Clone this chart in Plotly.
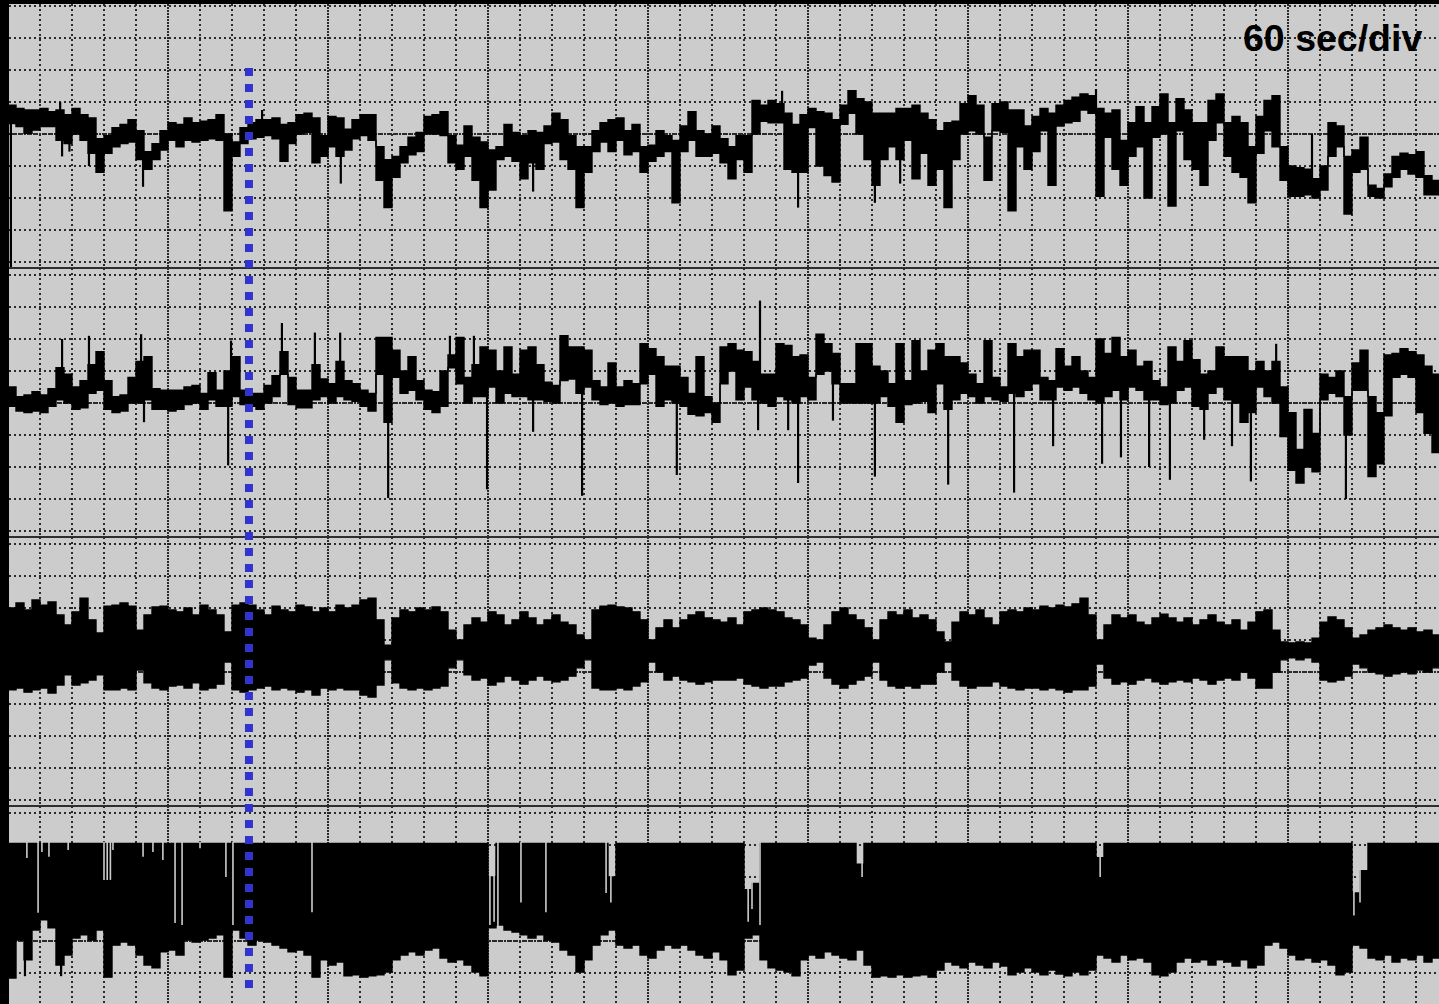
import plotly.graph_objects as go

# ---------------- data (values in divisions) ----------------
# all four channels: one envelope column per 1/4 division (15 s)
STEP = 0.25  # minutes per column

# Channel 1
p1_hi = [0.9, 0.8, 0.75, 0.75, 0.8, 0.7, 0.75, 0.6, 0.8, 0.6,
         0.5, -0.15, -0.05, 0.2, 0.3, 0.45, 0.1, -0.55, -0.3, 0.1,
         0.35, 0.3, 0.5, 0.35, 0.4, 0.45, 0.6, 0.0, -0.25, 0.2,
         0.35, 0.45, 0.45, 0.5, 0.3, 0.35, 0.6, 0.65, 0.5, -0.05,
         0.55, 0.5, 0.15, 0.45, 0.6, 0.6, -0.4, -0.8, -0.7, -0.4,
         -0.1, 0.05, 0.55, 0.6, 0.7, -0.05, -0.35, 0.25, -0.1,
         -0.25, -0.5, -0.4, 0.3, 0.05, -0.05, 0.1, 0.05, 0.25, 0.65,
         0.45, -0.05, -0.4, -0.4, 0.1, 0.35, 0.45, 0.5, 0.1, 0.3,
         -0.4, -0.35, 0.1, -0.05, -0.2, 0.25, 0.7, 0.1, 0.0, 0.25,
         -0.15, -0.4, -0.05, -0.05, 1.05, 0.9, 1.05, 0.95, 0.65, 0.3,
         0.6, 0.8, 0.7, 0.65, 0.45, 0.9, 1.35, 1.1, 1.0, 0.65,
         0.65, 0.65, 0.8, 0.8, 0.9, 0.65, 0.45, 0.1, 0.35, 0.4,
         0.95, 1.2, 0.9, -0.1, 0.95, 1.0, 0.75, 0.75, 0.25, 0.55,
         0.8, 0.65, 0.9, 1.05, 1.15, 1.25, 1.2, 0.8, 0.65, 0.75,
         -0.2, 0.35, 0.85, 0.35, 0.85, 1.25, 0.35, 1.1, 0.75, 0.35,
         0.35, 1.05, 1.25, 0.35, 0.55, 0.35, -0.4, 0.55, 1.05, 1.2,
         -0.4, -1.0, -1.05, -1.1, -1.4, -1.0, 0.35, 0.25, -0.7, -0.5,
         -0.1, -1.6, -1.7, -1.25, -0.7, -0.6, -0.65, -0.55, -1.3, -1.45]
p1_lo = [0.33, 0.23, 0.02, 0.12, 0.23, 0.23, -0.2, -0.3, 0.0, -0.2,
         -0.6, -1.2, -0.6, -0.4, -0.3, -0.25, -0.8, -1.1, -0.8, -0.5,
         -0.2, -0.4, -0.2, -0.25, -0.2, -0.15, -0.2, -2.4, -0.7, -0.3,
         -0.15, -0.1, -0.05, -0.15, -0.85, -0.3, 0.0, 0.05, -0.9, -0.7,
         -0.4, -0.7, -0.5, -0.15, -0.05, -0.2, -1.45, -2.3, -1.35, -0.9,
         -0.65, -0.55, 0.0, 0.0, -0.05, -0.9, -1.1, -0.7, -1.45,
         -2.3, -1.75, -0.8, -0.7, -0.85, -1.4, -0.9, -1.1, -0.3, -0.25,
         -0.8, -1.1, -2.3, -1.2, -0.55, -0.25, -0.55, -0.2, -0.65, -0.55,
         -1.2, -0.85, -0.7, -0.55, -2.15, -0.55, -0.2, -0.7, -0.7, -0.6,
         -0.9, -1.4, -0.8, -1.2, 0.0, 0.4, 0.35, 0.35, -1.1, -1.2,
         -1.2, 0.2, -1.0, -1.3, -1.5, 0.3, 0.65, 0.0, -0.8, -1.6,
         -0.8, -0.4, -0.8, -0.2, -1.4, -0.6, -1.6, -1.1, -2.3, -0.8,
         0.0, 0.1, 0.0, -1.45, 0.1, 0.05, -2.4, -0.4, -1.1, -0.55,
         0.1, -1.6, 0.25, 0.35, 0.4, 0.75, 0.65, -1.95, -0.1, -1.1,
         -1.6, -0.7, -0.4, -2.0, -0.1, 0.0, -2.25, 0.1, -0.8, -1.1,
         -1.6, -0.2, 0.35, -0.7, -1.2, -1.35, -2.15, -0.6, 0.1, -0.4,
         -1.45, -1.95, -1.95, -1.9, -2.0, -1.75, -0.7, -0.4, -2.5, -1.2,
         -1.1, -1.95, -2.0, -1.65, -1.35, -1.1, -1.25, -1.35, -1.9, -1.9]
p1_spike_t = [0.09, 1.63, 1.69, 1.92, 2.53, 4.22, 7.94, 10.4, 16.41, 24.19, 24.69, 27.09, 27.88, 34.0, 40.75]
p1_spike_v = [-4.19, 1.0, -0.7, -0.55, -1.0, -1.65, 0.75, -1.55, -1.8, 1.35, -2.3, -2.15, -1.55, 1.4, 0.0]

# Channel 2
p2_hi = [0.5, 0.2, 0.25, 0.35, 0.25, 0.45, 1.1, 0.9, 0.5, 0.7,
         1.2, 1.6, 0.7, 0.2, 0.25, 0.8, 1.3, 1.45, 0.45, 0.4,
         0.4, 0.4, 0.5, 0.55, 0.3, 0.95, 0.4, 1.0, 1.45, 0.4,
         0.3, 0.3, 0.55, 0.85, 1.6, 0.8, 0.4, 0.4, 1.2, 0.75,
         0.6, 1.3, 0.7, 0.6, 0.4, 0.3, 2.05, 2.05, 1.65, 1.0,
         1.45, 0.7, 0.4, 0.35, 1.0, 1.5, 2.05, 0.8, 1.2,
         1.75, 1.65, 1.0, 1.75, 0.9, 1.65, 1.75, 1.2, 0.65, 0.55,
         2.1, 1.75, 1.75, 1.65, 0.7, 0.5, 1.25, 0.5, 0.7, 0.6,
         1.85, 1.7, 1.45, 1.15, 1.15, 0.8, 0.3, 1.45, 0.2, 0.0,
         1.75, 1.85, 1.65, 1.6, 1.3, 0.9, 0.9, 1.85, 1.8, 1.45,
         1.5, 0.8, 2.15, 1.85, 1.55, 0.6, 0.6, 1.85, 1.85, 1.15,
         1.0, 0.6, 1.85, 0.7, 1.95, 1.0, 1.65, 1.85, 1.45, 1.45,
         1.25, 0.9, 0.6, 1.95, 0.8, 0.5, 1.85, 1.45, 1.65, 1.65,
         0.8, 0.7, 1.7, 1.15, 1.45, 1.0, 0.8, 2.0, 1.55, 2.05,
         1.45, 1.65, 1.15, 1.3, 0.7, 0.5, 1.75, 1.3, 1.95, 1.35,
         0.9, 1.0, 1.75, 1.45, 1.45, 1.45, 1.0, 1.3, 1.0, 1.3,
         0.5, -0.3, -1.45, -0.2, -0.95, 0.9, 0.8, 1.0, 0.2, 1.25,
         1.65, 0.2, -0.3, 1.5, 1.55, 1.7, 1.6, 1.5, 1.15, 0.9]
p2_lo = [-0.1, -0.25, -0.3, -0.25, -0.3, -0.1, 0.1, 0.0, -0.2, -0.15,
         0.3, 0.4, -0.2, -0.3, -0.25, 0.0, 0.0, 0.1, -0.2, -0.2,
         -0.25, -0.2, -0.05, 0.0, -0.2, 0.1, -0.1, -0.1, 0.2, -0.05,
         -0.1, -0.2, 0.0, 0.2, 0.9, -0.05, -0.15, -0.15, 0.1, 0.2,
         0.0, 0.2, 0.1, 0.05, -0.1, -0.25, 0.9, -0.6, 0.8, 0.3,
         0.4, 0.1, -0.2, -0.3, -0.1, 1.1, 0.6, 0.0, 0.2,
         0.2, 0.5, 0.0, 0.3, 0.2, 0.2, 0.1, 0.1, 0.05, 0.0,
         0.7, 0.75, 0.3, 0.5, 0.1, -0.05, 0.0, -0.1, -0.05, -0.05,
         0.6, 0.9, -0.1, 0.1, 0.0, -0.1, -0.35, -0.4, -0.3, -0.6,
         0.6, 1.0, 0.1, 0.5, 0.1, 0.0, -0.1, 0.2, 0.1, 0.0,
         0.2, 0.1, 0.9, 1.0, 0.6, 0.0, 0.0, 0.0, 0.0, 0.0,
         0.2, -0.1, -0.6, -0.05, 0.0, 0.05, -0.3, 0.6, -0.2, 0.1,
         0.3, 0.2, 0.0, 0.2, 0.1, 0.05, 0.3, 0.2, 0.4, 0.6,
         0.1, 0.1, 0.5, 0.4, 0.5, 0.3, 0.1, 0.0, 0.2, 0.4,
         0.1, 0.5, 0.4, 0.1, 0.1, -0.05, 0.0, 0.4, 0.5, -0.1,
         -0.2, 0.3, 0.5, 0.1, 0.0, -0.6, -0.3, 0.5, 0.2, 0.0,
         -1.05, -2.1, -2.5, -2.0, -2.15, 0.1, 0.3, 0.2, -1.0, 0.4,
         0.4, -2.3, -1.9, -0.4, 0.8, 0.9, 0.8, -0.3, -0.95, -1.55]
p2_spike_t = [1.69, 2.53, 4.16, 6.97, 8.56, 9.59, 10.38, 13.81, 14.56,
              4.25, 6.88, 11.88, 14.97, 16.41, 17.94, 20.9, 23.5, 23.44, 24.38, 24.69, 25.78,
              27.09, 29.38, 31.44, 32.66, 34.19, 34.78, 35.66, 36.31, 37.38, 38.25, 38.84, 39.63, 41.81]
p2_spike_v = [2.0, 2.1, 2.15, 1.95, 2.5, 2.2, 2.2, 2.1, 2.1,
              -0.6, -1.95, -2.97, -2.7, -0.9, -2.9, -2.25, 3.2, -0.85, -0.85, -2.5, -0.55,
              -2.3, -2.55, -2.8, -1.35, -1.9, -1.7, -2.0, -2.4, -1.15, -1.35, -2.45, 1.85, -3.0]

# Channel 3
p3_hi = [2.0, 2.16, 1.94, 2.25, 2.09, 2.19, 1.78, 1.47, 1.88, 2.31,
         1.63, 1.22, 2.06, 2.09, 2.16, 2.06, 1.31, 1.78, 2.03, 2.06,
         1.94, 1.88, 2.0, 1.78, 2.09, 1.94, 1.78, 1.25, 2.09, 2.16,
         2.09, 1.94, 1.78, 2.06, 1.94, 1.88, 2.09, 2.03, 1.88, 2.0,
         1.88, 2.09, 2.0, 2.09, 2.25, 2.31, 1.63, 0.84, 1.69, 1.94,
         1.88, 2.0, 1.94, 2.03, 1.88, 1.31, 1.0, 1.47, 1.69, 1.56,
         1.88, 1.78, 1.47, 1.63, 1.88, 1.69, 1.47, 1.63, 1.78, 1.56,
         1.47, 1.16, 1.0, 1.94, 2.06, 2.09, 2.03, 2.0, 1.88, 1.63,
         1.0, 1.38, 1.63, 1.38, 1.63, 1.78, 1.88, 1.69, 1.63, 1.56,
         1.69, 1.47, 1.88, 1.94, 2.0, 1.94, 1.88, 1.69, 1.63, 1.47,
         1.06, 1.0, 1.47, 1.88, 2.0, 1.78, 1.63, 1.38, 1.0, 1.63,
         1.88, 1.78, 1.94, 1.69, 1.78, 1.63, 1.25, 0.94, 1.56, 1.88,
         1.78, 1.94, 1.69, 1.47, 1.88, 1.94, 1.88, 2.0, 1.94, 2.06,
         2.0, 2.09, 2.03, 2.13, 2.31, 1.78, 1.0, 1.47, 1.78, 1.69,
         1.78, 1.56, 1.47, 1.69, 1.81, 1.69, 1.56, 1.69, 1.47, 1.63,
         1.78, 1.56, 1.47, 1.63, 1.31, 1.56, 1.88, 1.94, 1.31, 0.94,
         0.91, 0.94, 0.91, 1.06, 1.56, 1.72, 1.63, 1.38, 1.06, 1.16,
         1.31, 1.38, 1.47, 1.38, 1.31, 1.38, 1.25, 1.31, 1.16]
p3_lo = [-0.56, -0.5, -0.63, -0.56, -0.5, -0.66, -0.41, -0.09, -0.41, -0.34,
         -0.25, -0.09, -0.56, -0.56, -0.5, -0.56, 0.06, -0.34, -0.5, -0.56,
         -0.44, -0.41, -0.5, -0.34, -0.56, -0.5, -0.38, 0.31, -0.56, -0.63,
         -0.56, -0.5, -0.44, -0.56, -0.5, -0.56, -0.63, -0.56, -0.72, -0.5,
         -0.56, -0.5, -0.56, -0.56, -0.72, -0.78, -0.41, 0.38, -0.34, -0.5,
         -0.56, -0.5, -0.56, -0.5, -0.44, 0.13, 0.38, -0.09, -0.25, -0.19,
         -0.41, -0.31, -0.13, -0.25, -0.38, -0.25, -0.13, -0.25, -0.31, -0.25,
         -0.13, 0.13, 0.38, -0.5, -0.56, -0.56, -0.5, -0.56, -0.44, -0.31,
         0.31, 0.0, -0.25, -0.13, -0.25, -0.31, -0.38, -0.31, -0.25, -0.25,
         -0.25, -0.19, -0.38, -0.44, -0.5, -0.44, -0.44, -0.31, -0.25, -0.19,
         0.22, 0.31, -0.19, -0.38, -0.5, -0.38, -0.25, -0.13, 0.31, -0.25,
         -0.44, -0.5, -0.44, -0.5, -0.38, -0.38, 0.0, 0.31, -0.25, -0.44,
         -0.5, -0.44, -0.44, -0.31, -0.44, -0.5, -0.56, -0.5, -0.5, -0.56,
         -0.5, -0.56, -0.63, -0.56, -0.56, -0.44, 0.25, -0.19, -0.38, -0.31,
         -0.38, -0.25, -0.19, -0.31, -0.38, -0.31, -0.25, -0.31, -0.19, -0.25,
         -0.38, -0.25, -0.19, -0.25, 0.0, -0.19, -0.5, -0.5, 0.0, 0.38,
         0.44, 0.38, 0.44, 0.31, -0.25, -0.31, -0.25, -0.13, 0.25, 0.13,
         0.0, -0.06, -0.13, -0.06, 0.0, -0.06, 0.06, 0.0, 0.13]

# Channel 4 (upper edge clipped at about +3 div)
p4_hi = [3.05] * 60 + [2.0] + [3.05] * 14 + [2.0] + [3.05] * 16 + [1.6, 1.8] + [3.05] * 12 \
        + [2.4] + [3.05] * 29 + [2.6] + [3.05] * 31 + [1.5, 2.2] + [3.05] * 9
p4_lo = [-1.16, 0.03, -0.59, 0.34, 0.66, 0.41, -0.75, -0.44, 0.09, 0.19,
         0.03, 0.34, -1.13, -0.13, -0.03, -0.13, -0.44, -0.75, -0.84, -0.34,
         -0.28, -0.44, 0.03, -0.03, 0.03, 0.09, 0.19, -1.13, 0.34, 0.09,
         -0.13, 0.03, -0.03, -0.13, -0.22, -0.34, -0.28, -0.44, -1.13, -0.59,
         -0.75, -0.66, -1.09, -1.06, -1.13, -1.09, -1.06, -0.97, -0.59, -0.44,
         -0.34, -0.44, -0.28, -0.22, -0.53, -0.66, -0.59, -0.75, -0.97, -1.09,
         0.41, 0.5, 0.34, 0.28, 0.19, 0.09, 0.19, 0.03, -0.03, -0.28,
         -0.44, -0.97, -0.59, -0.13, 0.19, 0.34, -0.13, -0.22, -0.13, -0.44,
         -0.53, -0.28, -0.13, -0.22, -0.13, -0.28, -0.44, -0.53, -0.34, -0.59,
         -1.06, -0.91, 0.09, 0.19, -0.59, -0.84, -0.91, -0.97, -1.09, -0.59,
         -0.44, -0.53, -0.34, -0.44, -0.53, -0.59, -0.28, -0.75, -1.13, -1.09,
         -1.13, -1.06, -1.13, -1.09, -1.06, -1.13, -0.91, -0.66, -0.75, -0.84,
         -0.66, -0.75, -0.84, -0.66, -0.78, -1.06, -0.97, -0.84, -0.97, -1.06,
         -0.91, -1.03, -1.09, -0.97, -1.06, -0.91, -0.44, -0.53, -0.66, -0.44,
         -0.59, -0.53, -0.66, -1.06, -1.09, -0.97, -0.66, -0.53, -0.66, -0.59,
         -0.75, -0.59, -0.66, -0.78, -0.59, -0.84, -0.75, -0.13, -0.03, -0.22,
         -0.44, -0.59, -0.53, -0.66, -0.59, -0.75, -1.06, -0.97, -0.13, -0.22,
         -0.53, -0.59, -0.44, -0.66, -0.53, -0.59, -0.44, -0.66, -0.53]
p4_spike_t = [0.53, 1.66]
p4_spike_v = [-1.1, -1.1]
# thin breaks where channel 4 drops below its clipping level (time, lowest level of the break)
p4_gap_t = [0.59, 0.94, 1.06, 1.28, 1.88, 3.0, 3.1, 3.2, 3.28, 4.22, 4.53, 4.84, 5.22, 5.44,
            6.0, 6.81, 7.03, 9.5, 15.06, 15.19, 15.31, 16.03, 16.81, 18.69, 18.84,
            23.13, 23.25, 23.5, 26.69, 34.13, 42.06, 42.25]
p4_gap_v = [2.59, 0.88, 2.78, 2.63, 2.84, 1.91, 1.91, 1.91, 2.84, 2.63, 2.78, 2.53, 0.56, 0.5,
            2.9, 2.0, 0.5, 0.9, 0.5, 0.6, 0.3, 1.2, 0.9, 1.5, 1.2,
            0.6, 1.0, 0.5, 2.0, 2.0, 0.8, 1.2]

event_time = 7.53          # minutes, blue marker
time_label = "60 sec/div"

# ---------------- styling ----------------
BG = "#cccccc"
GRID = "#2a2a2a"
FONT = "Liberation Sans, Arial, sans-serif"

fig = go.Figure()


def axes_of(idx):
    return ("x" if idx == 1 else f"x{idx}"), ("y" if idx == 1 else f"y{idx}")


def add_band(hi, lo, idx):
    xa, ya = axes_of(idx)
    t = [i * STEP for i in range(len(hi))] + [len(hi) * STEP]
    ylo = list(lo) + [lo[-1]]
    yhi = list(hi) + [hi[-1]]
    fig.add_trace(go.Scatter(x=t, y=ylo, mode="lines", xaxis=xa, yaxis=ya,
                             line=dict(color="black", width=1.4, shape="hv"),
                             hoverinfo="skip", showlegend=False))
    fig.add_trace(go.Scatter(x=t, y=yhi, mode="lines", xaxis=xa, yaxis=ya,
                             fill="tonexty", fillcolor="black",
                             line=dict(color="black", width=1.4, shape="hv"),
                             hoverinfo="skip", showlegend=False))


def add_spikes(hi, lo, st, sv, idx, color="black", width=2.2, from_top=False):
    xa, ya = axes_of(idx)
    xs, ys = [], []
    for t, v in zip(st, sv):
        c = min(int(t / STEP), len(hi) - 1)
        if from_top:
            base = hi[c] + 0.05
        else:
            base = lo[c] if v < lo[c] else hi[c]
        xs += [t, t, None]
        ys += [base, v, None]
    fig.add_trace(go.Scatter(x=xs, y=ys, mode="lines", xaxis=xa, yaxis=ya,
                             line=dict(color=color, width=width),
                             hoverinfo="skip", showlegend=False))


add_band(p1_hi, p1_lo, 1)
add_spikes(p1_hi, p1_lo, p1_spike_t, p1_spike_v, 1)
add_band(p2_hi, p2_lo, 2)
add_spikes(p2_hi, p2_lo, p2_spike_t, p2_spike_v, 2)
add_band(p3_hi, p3_lo, 3)
add_band(p4_hi, p4_lo, 4)
add_spikes(p4_hi, p4_lo, p4_spike_t, p4_spike_v, 4)
add_spikes(p4_hi, p4_lo, p4_gap_t, p4_gap_v, 4, color=BG, width=1.6, from_top=True)

# panel geometry: 1 division = 32 px, plot area 1430 x 1000 px
x_range = [1 / 32, 1431 / 32]
domains = [[0.736, 1.0], [0.467, 0.736], [0.198, 0.467], [0.0, 0.198]]
ranges = [[-4.1875, 4.0625], [-4.1875, 4.21875], [-4.1875, 4.21875], [-1.96875, 4.21875]]

minor_x = dict(tick0=0, dtick=1, showgrid=True, gridcolor=GRID, gridwidth=1.6,
               griddash="1.6px,3.4px", ticks="")
minor_y = dict(tickmode="linear", tick0=0, dtick=1, showgrid=True, gridcolor=GRID,
               gridwidth=1.6, griddash="1.6px,3.4px", ticks="")

layout_axes = {}
for i in range(1, 5):
    xk = "xaxis" if i == 1 else f"xaxis{i}"
    yk = "yaxis" if i == 1 else f"yaxis{i}"
    layout_axes[xk] = dict(domain=[0, 1], range=x_range, anchor="y" if i == 1 else f"y{i}",
                           tickmode="linear", tick0=0, dtick=5, showgrid=True,
                           gridcolor=GRID, gridwidth=1.6, griddash="1.5px,1.5px",
                           minor=minor_x, showticklabels=False, ticks="",
                           zeroline=False, showline=False, fixedrange=True)
    if i > 1:
        layout_axes[xk]["matches"] = "x"
    layout_axes[yk] = dict(domain=domains[i - 1], range=ranges[i - 1],
                           anchor="x" if i == 1 else f"x{i}",
                           tickmode="array", tickvals=[0], showgrid=True,
                           gridcolor=GRID, gridwidth=1.6, griddash="1.5px,1.5px",
                           minor=minor_y, showticklabels=False, ticks="",
                           zeroline=False, showline=False, fixedrange=True)

shapes = []
for yb in [0.736, 0.467, 0.198]:
    shapes.append(dict(type="line", xref="paper", yref="paper", x0=0, x1=1, y0=yb, y1=yb,
                       line=dict(color="#2e2e2e", width=2.2), layer="above"))
shapes.append(dict(type="line", xref="x", yref="paper", x0=event_time, x1=event_time,
                   y0=0.936, y1=0.016,
                   line=dict(color="#3333cc", width=8, dash="8px,8px"), layer="above"))

fig.update_layout(
    width=1439, height=1004,
    margin=dict(l=9, r=0, t=4, b=0, pad=0),
    paper_bgcolor="black", plot_bgcolor=BG,
    showlegend=False,
    shapes=shapes,
    annotations=[dict(text=f"<b>{time_label}</b>", xref="paper", yref="paper",
                      x=0.9895, y=0.966, xanchor="right", yanchor="middle",
                      showarrow=False, font=dict(family=FONT, size=37.5, color="black"))],
    **layout_axes,
)

fig.write_html(
    "out.html",
    config={"displayModeBar": False},
    post_script="document.body.style.margin='0';document.body.style.padding='0';"
                "document.body.style.background='black';document.body.style.overflow='hidden';",
)
